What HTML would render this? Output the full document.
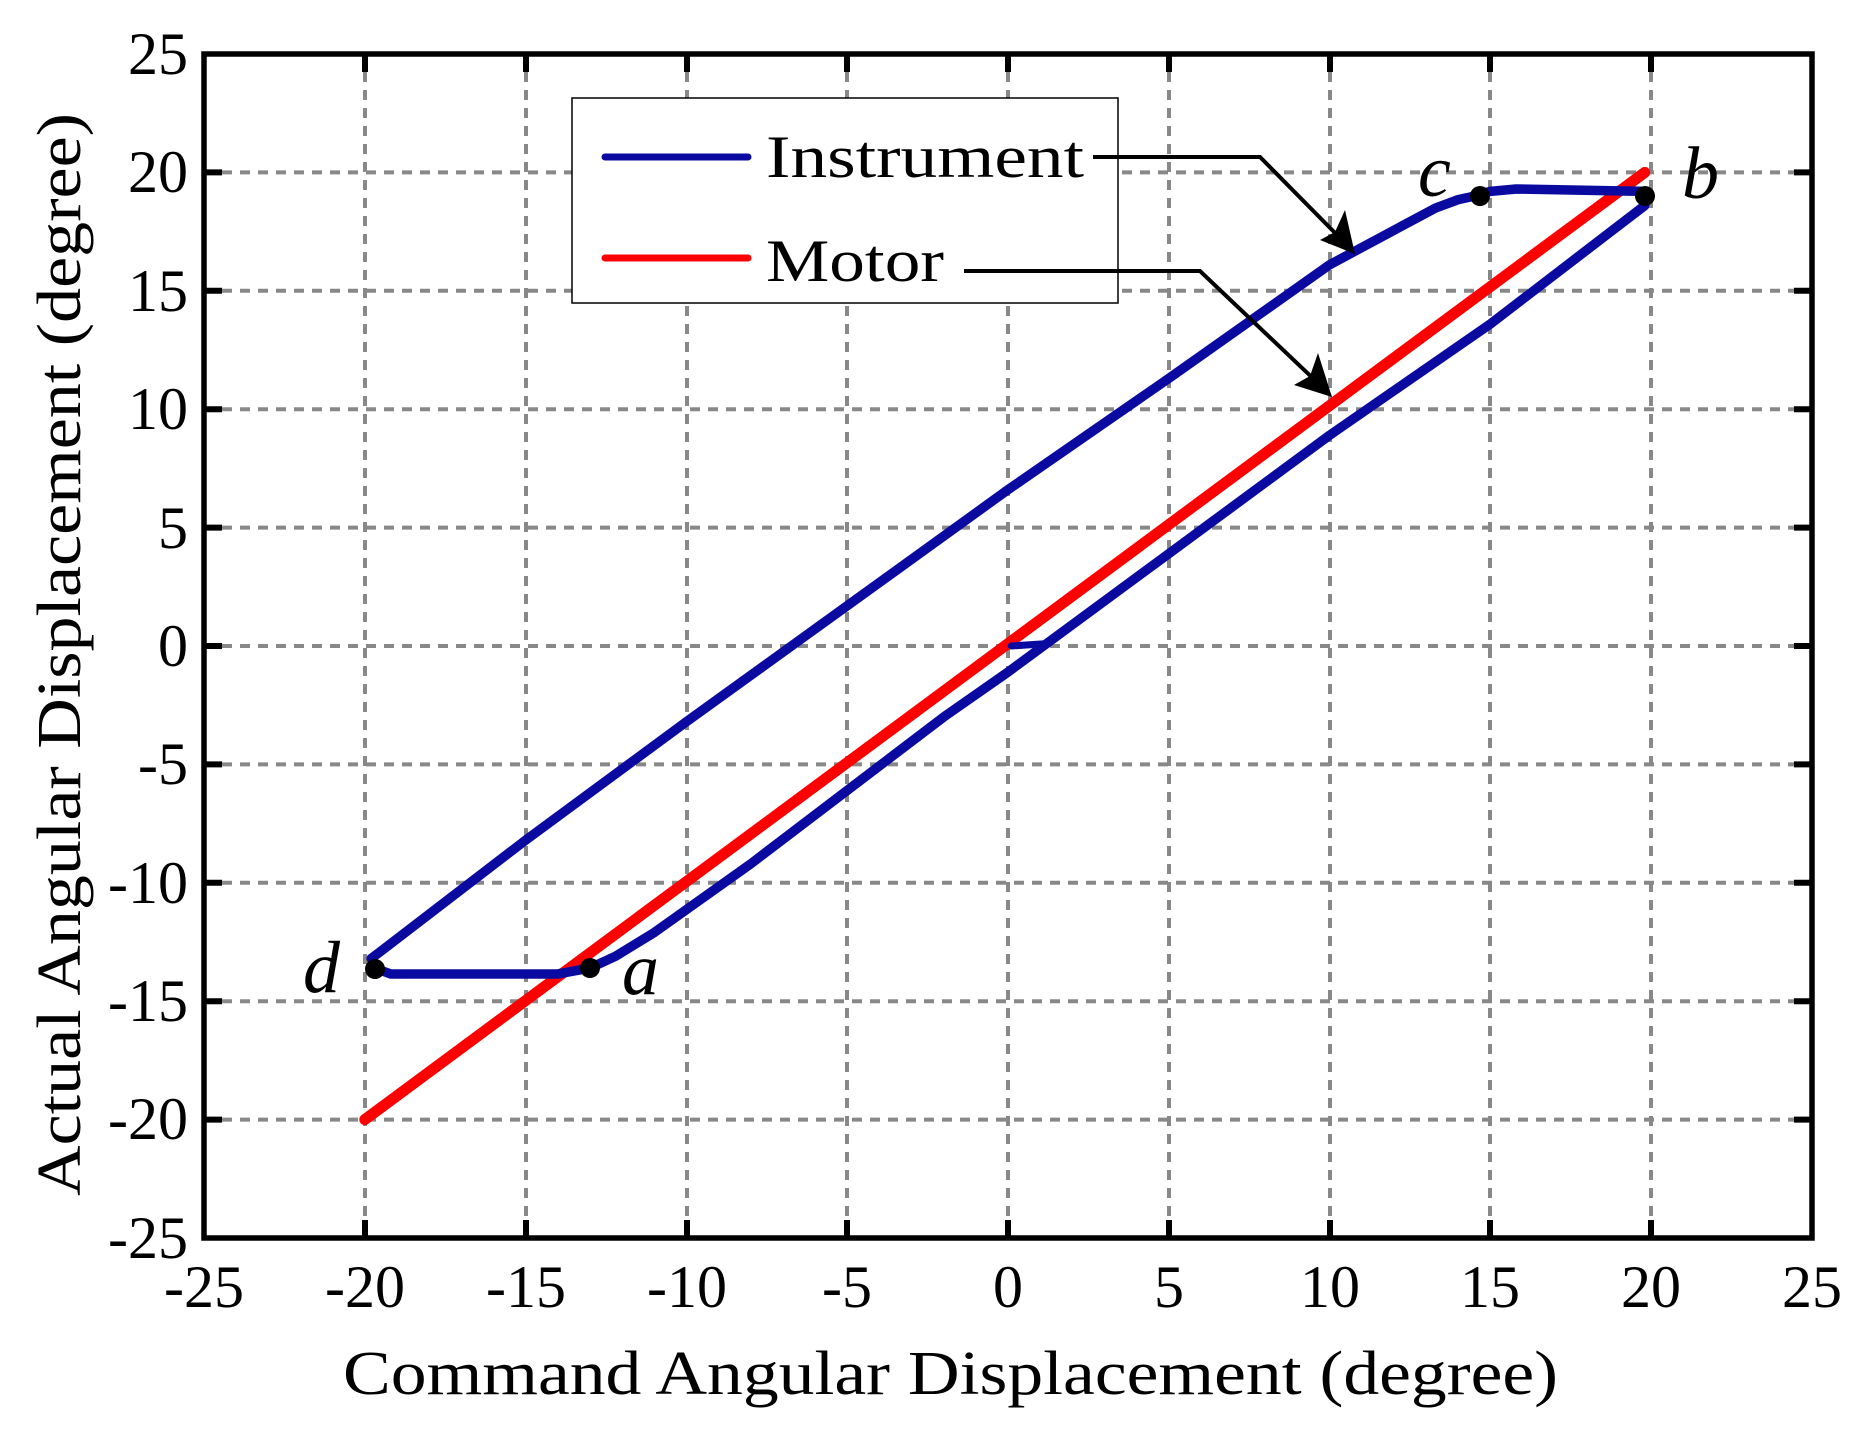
<!DOCTYPE html>
<html><head><meta charset="utf-8"><style>
html,body{margin:0;padding:0;background:#fff;}
svg{display:block;}
text{font-family:"Liberation Serif",serif;fill:#000;}
</style></head><body>
<svg width="1859" height="1430" viewBox="0 0 1859 1430" xmlns="http://www.w3.org/2000/svg">
<rect width="1859" height="1430" fill="#fff"/>
<!-- grid -->
<g stroke="#888" stroke-width="4" stroke-dasharray="10,8" fill="none">
<line x1="365" y1="54" x2="365" y2="1238"/>
<line x1="526" y1="54" x2="526" y2="1238"/>
<line x1="687" y1="54" x2="687" y2="1238"/>
<line x1="847" y1="54" x2="847" y2="1238"/>
<line x1="1008" y1="54" x2="1008" y2="1238"/>
<line x1="1169" y1="54" x2="1169" y2="1238"/>
<line x1="1330" y1="54" x2="1330" y2="1238"/>
<line x1="1490" y1="54" x2="1490" y2="1238"/>
<line x1="1651" y1="54" x2="1651" y2="1238"/>
<line x1="204" y1="172.4" x2="1812" y2="172.4"/>
<line x1="204" y1="290.8" x2="1812" y2="290.8"/>
<line x1="204" y1="409.2" x2="1812" y2="409.2"/>
<line x1="204" y1="527.6" x2="1812" y2="527.6"/>
<line x1="204" y1="646" x2="1812" y2="646"/>
<line x1="204" y1="764.4" x2="1812" y2="764.4"/>
<line x1="204" y1="882.8" x2="1812" y2="882.8"/>
<line x1="204" y1="1001.2" x2="1812" y2="1001.2"/>
<line x1="204" y1="1119.6" x2="1812" y2="1119.6"/>
</g>
<!-- ticks -->
<g stroke="#000" stroke-width="6">
<path d="M365 1238v-18M526 1238v-18M687 1238v-18M847 1238v-18M1008 1238v-18M1169 1238v-18M1330 1238v-18M1490 1238v-18M1651 1238v-18"/>
<path d="M365 54v18M526 54v18M687 54v18M847 54v18M1008 54v18M1169 54v18M1330 54v18M1490 54v18M1651 54v18"/>
<path d="M204 172.4h18M204 290.8h18M204 409.2h18M204 527.6h18M204 646h18M204 764.4h18M204 882.8h18M204 1001.2h18M204 1119.6h18"/>
<path d="M1812 172.4h-18M1812 290.8h-18M1812 409.2h-18M1812 527.6h-18M1812 646h-18M1812 764.4h-18M1812 882.8h-18M1812 1001.2h-18M1812 1119.6h-18"/>
</g>
<!-- legend -->
<rect x="572" y="98" width="546" height="205" fill="#fff" stroke="#000" stroke-width="1.5"/>
<line x1="605" y1="157" x2="748" y2="157" stroke="#0a0aa0" stroke-width="7" stroke-linecap="round"/>
<line x1="605" y1="258" x2="748" y2="258" stroke="#ff0000" stroke-width="7" stroke-linecap="round"/>
<text x="766" y="177" font-size="60" textLength="318" lengthAdjust="spacingAndGlyphs">Instrument</text>
<text x="766" y="281" font-size="60" textLength="178" lengthAdjust="spacingAndGlyphs">Motor</text>
<!-- series -->
<g transform="translate(1008,646) scale(32.16,-23.68)" fill="none" stroke-linejoin="round" stroke-linecap="round">
<path vector-effect="non-scaling-stroke" stroke="#ff0000" stroke-width="11" d="M-20,-20 L19.8,20"/>
<path vector-effect="non-scaling-stroke" stroke="#0a0aa0" stroke-width="9.5" d="M-13,-13.6 L-12.2,-13.1 L-11,-12.1 L-8,-9.2 L-5,-6.1 L-2,-3.0 L0,-1.1 L5,3.9 L10,8.9 L15,13.6 L19.8,18.6 M19.8,19.2 L15.8,19.3 L15,19.2 L14.5,19.0 L14,18.85 L13.3,18.5 L12.2,17.7 L10,16.1 L5,11.3 L0,6.6 L-5,1.7 L-10,-3.2 L-15,-8.2 L-19.8,-13.2 L-19.7,-13.6 L-19.2,-13.85 L-14,-13.85 L-13,-13.6"/>
<path vector-effect="non-scaling-stroke" stroke="#0a0aa0" stroke-width="7" d="M0.1,0 L1.2,0.1"/>
</g>
<!-- points -->
<g fill="#000">
<circle cx="590" cy="968" r="10"/>
<circle cx="1645" cy="196" r="10"/>
<circle cx="1480" cy="196" r="10"/>
<circle cx="375" cy="969" r="10"/>
</g>
<g font-style="italic" font-size="74">
<text x="1418" y="196">c</text>
<text x="1682" y="198">b</text>
<text x="303" y="992">d</text>
<text x="622" y="994">a</text>
</g>
<!-- arrows -->
<g stroke="#000" stroke-width="4" fill="none">
<polyline points="1093,157 1260,157 1345,243"/>
<polyline points="964,271 1200,271 1320,385"/>
</g>
<g fill="#000">
<polygon points="1355,254 1320,240 1335,232 1345,210"/>
<polygon points="1332,397 1294,385 1310,376 1318,353"/>
</g>
<!-- axes frame -->
<rect x="204" y="54" width="1608" height="1184" fill="none" stroke="#000" stroke-width="5.5"/>
<!-- tick labels -->
<g font-size="60" text-anchor="middle">
<text x="204" y="1307">-25</text>
<text x="365" y="1307">-20</text>
<text x="526" y="1307">-15</text>
<text x="687" y="1307">-10</text>
<text x="847" y="1307">-5</text>
<text x="1008" y="1307">0</text>
<text x="1169" y="1307">5</text>
<text x="1330" y="1307">10</text>
<text x="1490" y="1307">15</text>
<text x="1651" y="1307">20</text>
<text x="1812" y="1307">25</text>
</g>
<g font-size="60" text-anchor="end">
<text x="188" y="74">25</text>
<text x="188" y="192">20</text>
<text x="188" y="311">15</text>
<text x="188" y="429">10</text>
<text x="188" y="548">5</text>
<text x="188" y="666">0</text>
<text x="188" y="784">-5</text>
<text x="188" y="903">-10</text>
<text x="188" y="1021">-15</text>
<text x="188" y="1139">-20</text>
<text x="188" y="1258">-25</text>
</g>
<text x="343" y="1394" font-size="62" textLength="1215" lengthAdjust="spacingAndGlyphs">Command Angular Displacement (degree)</text>
<text transform="translate(80,1196) rotate(-90)" font-size="62" textLength="1083" lengthAdjust="spacingAndGlyphs">Actual Angular Displacement (degree)</text>
</svg>
</body></html>
